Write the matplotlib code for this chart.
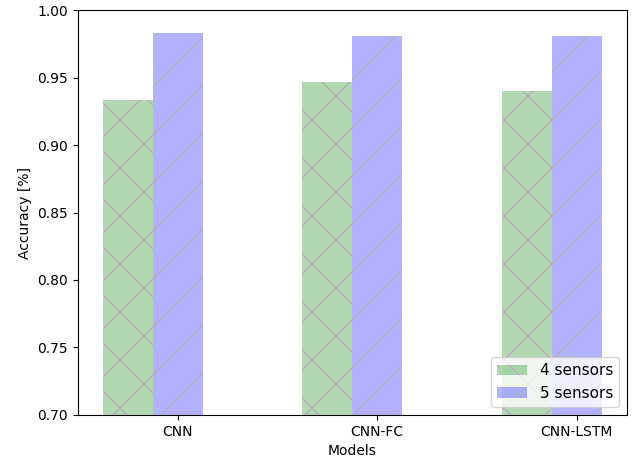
import matplotlib
matplotlib.use('Agg')
import matplotlib.pyplot as plt
import numpy as np

models = ['CNN', 'CNN-FC', 'CNN-LSTM']
acc_4 = [0.9333, 0.9467, 0.9400]
acc_5 = [0.9830, 0.9810, 0.9812]

# hatch spacing follows dpi, so draw at a higher dpi and shrink everything else
dpi = 144
k = 100 / dpi
plt.rcParams.update({
    'font.size': 10 * k,
    'axes.linewidth': 0.8 * k,
    'xtick.major.width': 0.8 * k,
    'ytick.major.width': 0.8 * k,
    'xtick.major.size': 3.5 * k,
    'ytick.major.size': 3.5 * k,
    'xtick.major.pad': 3.5 * k,
    'ytick.major.pad': 3.5 * k,
    'axes.labelpad': 4 * k,
    'hatch.linewidth': 1.0 * k,
    'patch.linewidth': 1.0 * k,
})

x = np.arange(len(models))
width = 0.25

fig, ax = plt.subplots(figsize=(633 / dpi, 463 / dpi), dpi=dpi)
ax.bar(x - width, acc_4, width, color=(0, 0.5, 0, 0.3), hatch='x',
       edgecolor='#b8aeb8', linewidth=0, label='4 sensors')
ax.bar(x, acc_5, width, color=(0, 0, 1, 0.3), hatch='/',
       edgecolor='#b8aeb8', linewidth=0, label='5 sensors')

ax.set_ylim(0.70, 1.00)
ax.set_xticks(x)
ax.set_xticklabels(models)
ax.set_xlabel('Models')
ax.set_ylabel('Accuracy [%]')
ax.legend(loc='lower right', fontsize=11 * k)

plt.subplots_adjust(left=0.123, right=0.99, top=0.978, bottom=0.104)
plt.savefig('out.png', dpi=dpi)
